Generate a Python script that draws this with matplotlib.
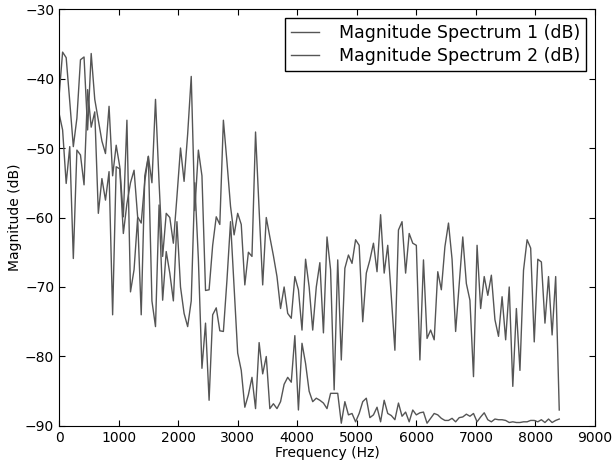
import numpy as np
import matplotlib
matplotlib.use('Agg')
import matplotlib.pyplot as plt

# frequency bins (Hz), 60 Hz apart
freqs = np.arange(0, 8401, 60)

spectrum1_db = [
    -42.6, -36.2, -37.0, -43.3, -49.8, -45.7, -37.3, -36.9, -47.4, -36.4,
    -43.0, -46.0, -49.0, -50.8, -44.0, -54.0, -49.6, -52.7, -59.9, -46.0,
    -70.7, -67.5, -60.0, -74.0, -54.0, -51.2, -72.0, -75.7, -58.2, -71.9,
    -64.9, -68.0, -72.0, -60.6, -70.0, -73.8, -75.7, -72.0, -55.0, -66.0,
    -81.7, -75.2, -86.3, -74.0, -73.0, -76.3, -76.4, -69.0, -60.6, -70.0,
    -79.5, -82.0, -87.3, -85.5, -83.0, -87.5, -78.0, -82.5, -80.0, -87.5,
    -86.8, -87.5, -86.5, -84.0, -83.0, -83.7, -77.0, -87.7, -78.1, -81.0,
    -85.0, -86.5, -86.0, -86.3, -86.7, -87.5, -85.3, -85.3, -85.3, -89.6,
    -86.5, -88.4, -88.2, -89.4, -88.2, -86.5, -86.0, -88.8, -88.4, -87.3,
    -89.4, -86.3, -88.2, -88.5, -89.1, -86.7, -88.6, -88.0, -89.4, -87.7,
    -88.4, -88.1, -88.0, -89.6, -88.9, -88.2, -88.4, -88.9, -89.2, -89.2,
    -88.9, -89.4, -88.8, -88.7, -88.3, -88.6, -88.2, -89.4, -88.7, -88.1,
    -89.1, -89.4, -89.0, -89.1, -89.1, -89.2, -89.5, -89.4, -89.5, -89.5,
    -89.4, -89.4, -89.2, -89.2, -89.4, -89.1, -89.5, -89.0, -89.5, -89.2,
    -89.0,
]

spectrum2_db = [
    -45.0, -47.4, -55.1, -49.8, -65.9, -50.3, -51.0, -55.3, -41.6, -47.0,
    -44.8, -59.4, -54.4, -57.5, -53.4, -74.0, -52.7, -53.0, -62.3, -58.0,
    -55.0, -53.2, -59.9, -60.8, -54.8, -51.2, -55.0, -43.0, -55.0, -65.6,
    -59.4, -60.0, -63.7, -57.0, -50.0, -54.8, -48.0, -39.7, -59.0, -50.3,
    -54.0, -70.5, -70.4, -64.0, -59.9, -61.0, -46.0, -52.0, -58.4, -62.5,
    -59.4, -61.0, -69.7, -65.0, -65.6, -47.7, -58.9, -69.7, -60.0, -62.8,
    -65.5, -68.5, -73.1, -70.0, -73.8, -74.5, -68.5, -70.4, -76.2, -66.0,
    -70.0, -76.2, -70.0, -66.5, -76.6, -62.8, -67.5, -84.8, -66.1, -80.5,
    -67.3, -65.4, -66.6, -63.2, -64.0, -75.0, -68.0, -66.1, -63.7, -67.8,
    -59.6, -68.0, -64.0, -71.4, -79.1, -61.8, -60.6, -68.0, -62.3, -63.7,
    -64.0, -80.5, -66.1, -77.4, -76.2, -77.6, -67.8, -70.4, -64.2, -60.8,
    -66.0, -76.4, -69.5, -62.8, -69.5, -71.9, -82.9, -64.0, -73.1, -68.5,
    -71.2, -68.3, -74.7, -77.1, -71.4, -77.6, -70.0, -84.3, -73.1, -82.0,
    -67.6, -63.2, -64.4, -77.9, -66.0, -66.4, -75.2, -68.5, -76.9, -68.5,
    -87.7,
]

plt.rcParams['xtick.direction'] = 'in'
plt.rcParams['ytick.direction'] = 'in'
plt.rcParams['xtick.top'] = True
plt.rcParams['ytick.right'] = True
plt.rcParams['xtick.major.size'] = 4
plt.rcParams['ytick.major.size'] = 4

fig = plt.figure(figsize=(6.13, 4.65), dpi=100)
ax = fig.add_axes([0.0963, 0.0839, 0.8743, 0.8967])

line_color = '#555555'
ax.plot(freqs, spectrum1_db, color=line_color, lw=1.0, label='Magnitude Spectrum 1 (dB)')
ax.plot(freqs, spectrum2_db, color=line_color, lw=1.0, label='Magnitude Spectrum 2 (dB)')

ax.set_xlim(0, 9000)
ax.set_ylim(-90, -30)
ax.set_xticks(np.arange(0, 9001, 1000))
ax.set_yticks(np.arange(-90, -29, 10))
ax.tick_params(labelsize=10)
ax.set_xlabel('Frequency (Hz)', fontsize=10, labelpad=1)
ax.set_ylabel('Magnitude (dB)', fontsize=10, labelpad=2)

leg = ax.legend(loc='upper right', fontsize=12.5, fancybox=False, framealpha=1,
                handlelength=1.6, handletextpad=1.15, borderpad=0.35,
                labelspacing=0.3, borderaxespad=0.5)
leg.get_frame().set_edgecolor('black')

fig.savefig('out.png', dpi=100)
